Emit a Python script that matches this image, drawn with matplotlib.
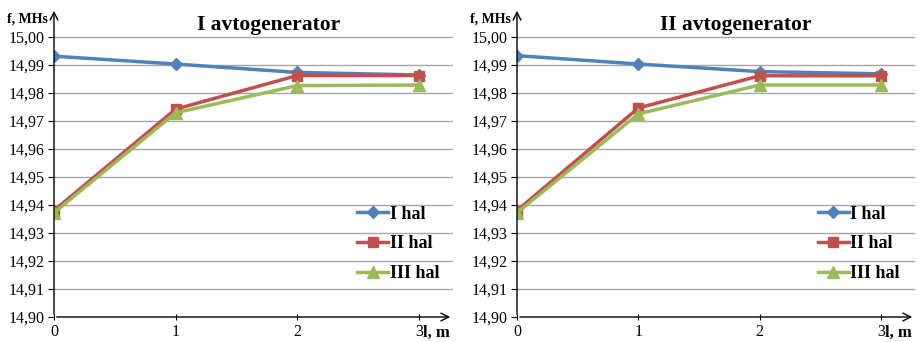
import matplotlib.pyplot as plt
from matplotlib.ticker import FuncFormatter

plt.rcParams['font.family'] = ['Liberation Serif', 'DejaVu Serif']

x = [0, 1, 2, 3]
titles = ["I avtogenerator", "II avtogenerator"]
labels = ["I hal", "II hal", "III hal"]

# generator I
g1_hal1 = [14.9931, 14.9903, 14.9873, 14.9864]
g1_hal2 = [14.9380, 14.9742, 14.9862, 14.9862]
g1_hal3 = [14.9372, 14.9729, 14.9826, 14.9828]
# generator II
g2_hal1 = [14.9933, 14.9903, 14.9876, 14.9868]
g2_hal2 = [14.9380, 14.9746, 14.9861, 14.9861]
g2_hal3 = [14.9372, 14.9725, 14.9828, 14.9828]

yticks = [14.90, 14.91, 14.92, 14.93, 14.94, 14.95, 14.96, 14.97, 14.98, 14.99, 15.00]

colors = ["#4F81BD", "#C0504D", "#9BBB59"]
markers = ["D", "s", "^"]
msizes = [6, 7, 8.5]

fig = plt.figure(figsize=(9.2, 3.42), dpi=100)
axes = [fig.add_axes([54/920, 1-317/342, 399/920, 309/342]),
        fig.add_axes([517/920, 1-317/342, 398/920, 309/342])]
data = [[g1_hal1, g1_hal2, g1_hal3], [g2_hal1, g2_hal2, g2_hal3]]
title_x = [0.539, 0.55]
leg_x = [0.76, 0.756]

for i, (ax, title, series) in enumerate(zip(axes, titles, data)):
    for s, lab, c, m, ms in zip(series, labels, colors, markers, msizes):
        ax.plot(x, s, color=c, marker=m, markersize=ms, linewidth=2.5, label=lab, zorder=3)
    ax.set_xlim(0, 3.28)
    ax.set_ylim(14.90, 15.0103)
    ax.set_xticks(x)
    ax.set_yticks(yticks)
    ax.yaxis.set_major_formatter(FuncFormatter(lambda v, p: f"{v:.2f}".replace(".", ",")))
    ax.tick_params(labelsize=11.5, length=4, color="black")
    ax.tick_params(axis='x', direction='inout', pad=3)
    ax.tick_params(axis='y', pad=3)
    for t in yticks[1:]:
        ax.axhline(t, color="#A6A6A6", linewidth=1, zorder=1)
    for sp in ax.spines.values():
        sp.set_visible(False)
    ax.annotate('', xy=(1.0, 0), xytext=(0, 0), xycoords='axes fraction',
                arrowprops=dict(arrowstyle='->', color='black', lw=1, mutation_scale=14))
    ax.annotate('', xy=(0, 1.0), xytext=(0, 0), xycoords='axes fraction',
                arrowprops=dict(arrowstyle='->', color='black', lw=1, mutation_scale=14))
    ax.text(title_x[i], 0.945, title, transform=ax.transAxes, ha='center', va='center',
            fontsize=15.5, fontweight='bold')
    ax.text(-0.015, 0.964, "f, MHs", transform=ax.transAxes, ha='right', va='center',
            fontsize=10, fontweight='bold')
    ax.text(0.925, -0.05, "l, m", transform=ax.transAxes, ha='left', va='center',
            fontsize=12, fontweight='bold')
    ax.legend(loc='upper left', bbox_to_anchor=(leg_x[i], 0.36), frameon=False,
              prop={'weight': 'bold', 'size': 13}, handlelength=1.7,
              handletextpad=0.1, labelspacing=0.7, borderaxespad=0, borderpad=0)

fig.savefig("out.png", dpi=100)
